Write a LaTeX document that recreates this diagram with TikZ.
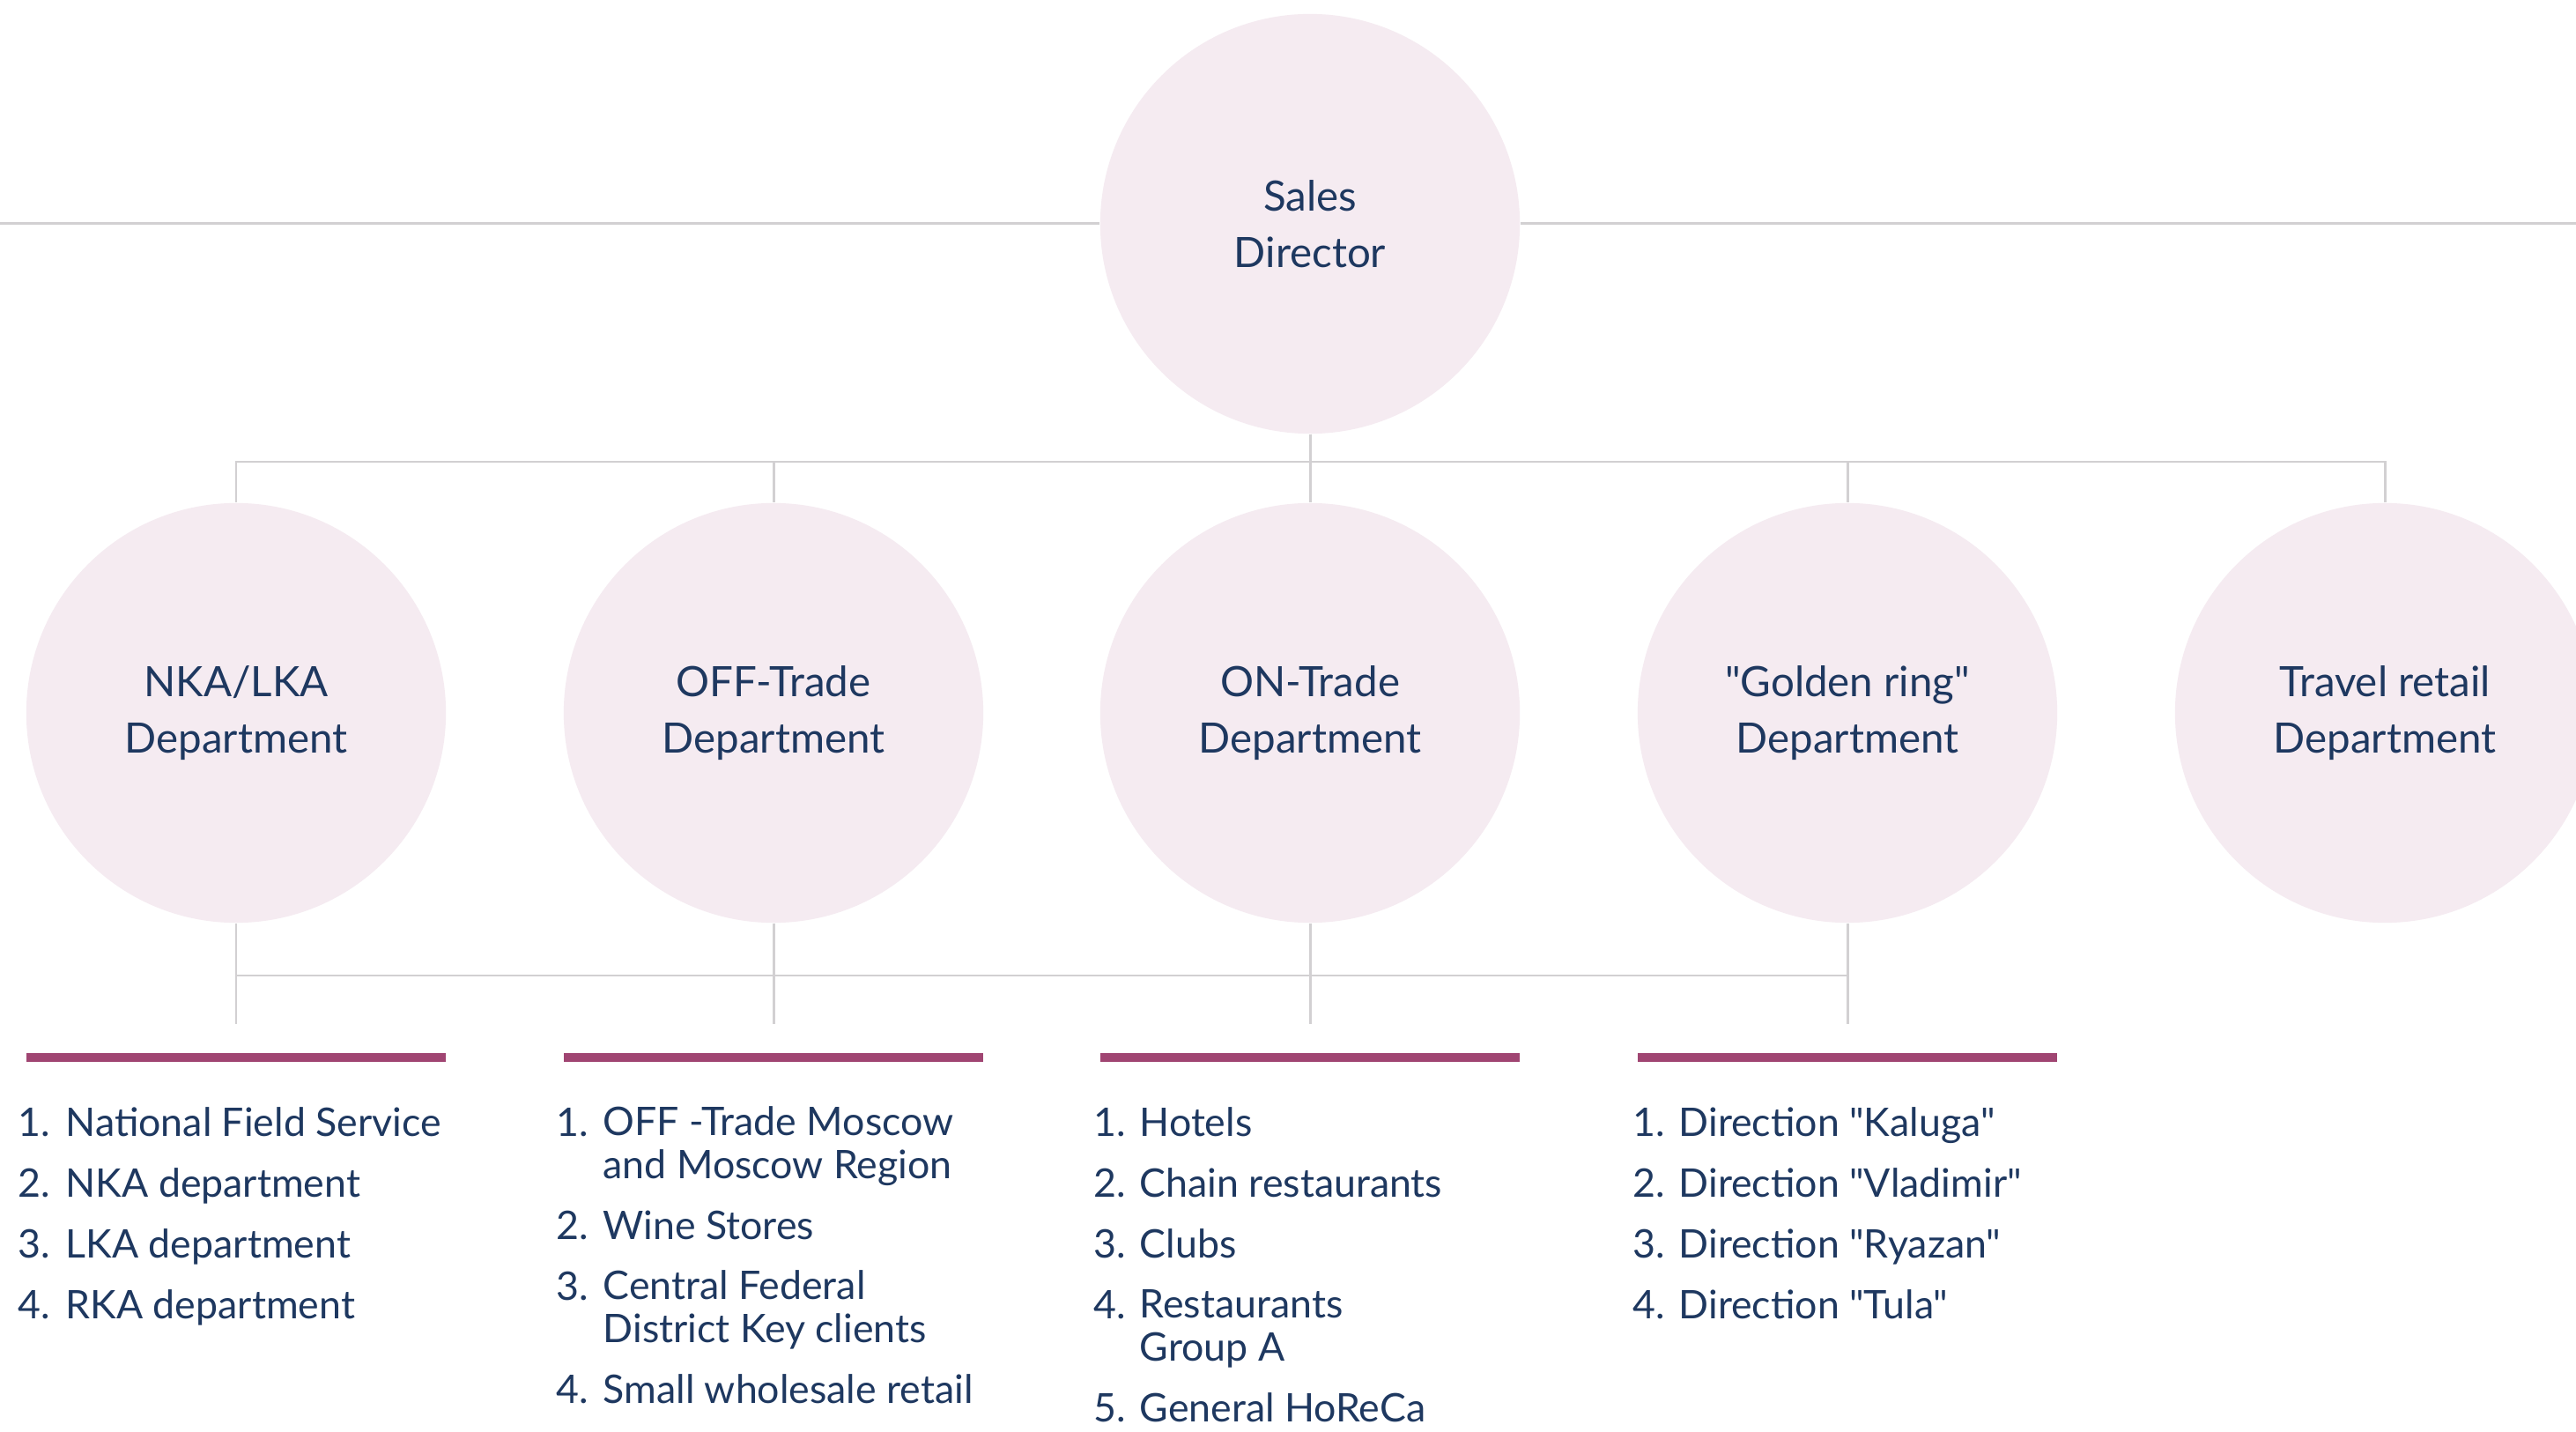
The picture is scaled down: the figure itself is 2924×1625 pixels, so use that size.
\documentclass[tikz,border=0pt]{standalone}
\usepackage{fontspec}
\setmainfont{Lato}[Ligatures=TeXOff]
\usetikzlibrary{positioning}

\definecolor{navy}{HTML}{1E3860}
\definecolor{blush}{HTML}{F5EBF1}
\definecolor{plum}{HTML}{A04572}
\definecolor{linegray}{HTML}{D2D0D2}

\tikzset{
  unit/.style={circle, fill=blush, minimum size=4.76cm, inner sep=0pt,
    align=center, text=navy, font=\fontsize{13.5}{18.2}\selectfont},
  link/.style={draw=linegray, line width=0.85pt},
  bar/.style={draw=plum, line width=2.85pt},
  num/.style={anchor=base west, inner sep=0pt, text=navy,
    font=\fontsize{12.7}{13.66}\selectfont},
  item/.style={num, align=left},
}

\begin{document}
\begin{tikzpicture}[x=0.01cm, y=-0.01cm]
\useasboundingbox (0,0) rectangle (2924,1625);
\fill[white] (0,0) rectangle (2924,1625);

% Director
\node[unit] (dir) at (1487,254) {Sales\\Director};
\coordinate (left) at (0,254);
\coordinate (right) at (2924,254);
\draw[link] (left) -- (dir.west);
\draw[link] (dir.east) -- (right);

% Departments
\node[unit] (nka)    at (268,809)  {NKA/LKA\\Department};
\node[unit] (off)    at (878,809)  {OFF-Trade\\Department};
\node[unit] (on)     at (1487,809) {ON-Trade\\Department};
\node[unit] (gold)   at (2097,809) {"Golden ring"\\Department};
\node[unit] (travel) at (2707,809) {Travel retail\\Department};

% upper bus
\coordinate (bus) at (1487,524);
\foreach \d in {nka, off, on, gold, travel}
  \draw[link] (dir.south) -- (bus) -| (\d.north);

% lower bus
\coordinate (lowbus) at (0,1107);
\coordinate (lowend) at (0,1162);
\foreach \d in {nka, off, on, gold}
  \draw[link] (\d.south) -- (\d.south |- lowend);
\draw[link] (nka.south |- lowbus) -- (gold.south |- lowbus);

% Bars
\coordinate (bary) at (0,1200);
\foreach \d in {nka, off, on, gold}
  \draw[bar] (\d.south |- bary) ++(-238,0) -- ++(476,0);

% Lists (a wrapped item sits on the baseline of its last line)
\foreach \n/\y/\t [count=\i] in {1./1289/National Field Service,
    2./1358/NKA department, 3./1427/LKA department, 4./1496/RKA department}{
  \node[num] (nka-n\i) at (20,\y) {\n};
  \node[item] (nka-t\i) at (74,\y) {\t};
}
\foreach \n/\y [count=\i] in {1./1289, 2./1406, 3./1475, 4./1592}
  \node[num] (off-n\i) at (631,\y) {\n};
\node[item] (off-t1) at (684,1337) {OFF -Trade Moscow\\and Moscow Region};
\node[item] (off-t2) at (684,1406) {Wine Stores};
\node[item] (off-t3) at (684,1523) {Central Federal\\District Key clients};
\node[item] (off-t4) at (684,1592) {Small wholesale retail};
\foreach \n/\y [count=\i] in {1./1289, 2./1358, 3./1427, 4./1496, 5./1613}
  \node[num] (on-n\i) at (1241,\y) {\n};
\node[item] (on-t1) at (1293,1289) {Hotels};
\node[item] (on-t2) at (1293,1358) {Chain restaurants};
\node[item] (on-t3) at (1293,1427) {Clubs};
\node[item] (on-t4) at (1293,1544) {Restaurants\\Group A};
\node[item] (on-t5) at (1293,1613) {General HoReCa};
\foreach \n/\y/\t [count=\i] in {1./1289/Direction "Kaluga",
    2./1358/Direction "Vladimir", 3./1427/Direction "Ryazan",
    4./1496/Direction "Tula"}{
  \node[num] (gold-n\i) at (1853,\y) {\n};
  \node[item] (gold-t\i) at (1905,\y) {\t};
}
\end{tikzpicture}
\end{document}
